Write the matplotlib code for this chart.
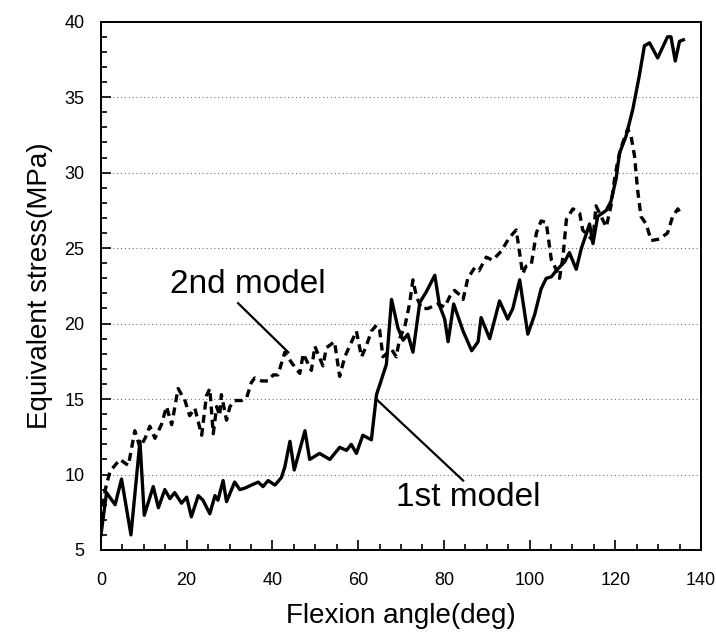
import matplotlib
matplotlib.use('Agg')
import matplotlib.pyplot as plt
from matplotlib.ticker import MultipleLocator

# 1st model (solid)
angle_1st = [0, 1.3, 3.3, 4.8, 7.0, 9.1, 10.1, 12.2, 13.4, 14.9, 16.1, 17.2, 18.8, 20.0,
             21.1, 22.7, 23.8, 25.4, 26.6, 27.3, 28.5, 29.3, 31.2, 32.4, 33.6, 35.1, 36.7,
             37.8, 39.0, 40.6, 42.1, 42.9, 44.1, 45.1, 47.6, 48.7, 51.0, 53.4, 55.7, 57.3,
             58.4, 59.6, 61.1, 63.1, 64.3, 65.0, 66.6, 67.8, 69.3, 70.5, 71.6, 72.8, 74.4,
             75.9, 77.9, 79.0, 80.2, 81.0, 82.3, 84.5, 86.5, 88.0, 88.7, 90.7, 93.0, 94.9,
             96.1, 97.7, 99.6, 101.2, 102.7, 103.9, 105.1, 106.2, 108.2, 109.3, 110.9, 112.1,
             113.2, 114.0, 114.8, 115.9, 117.9, 119.0, 120.2, 121.0, 122.5, 124.1, 125.6,
             126.8, 128.0, 129.9, 132.2, 133.0, 134.0, 135.0, 135.9]
stress_1st = [6.0, 8.8, 8.0, 9.7, 6.0, 12.2, 7.3, 9.2, 7.8, 9.0, 8.4, 8.8, 8.1, 8.5,
              7.2, 8.6, 8.3, 7.4, 8.6, 8.3, 9.6, 8.2, 9.5, 9.0, 9.1, 9.3, 9.5,
              9.2, 9.6, 9.3, 9.8, 10.5, 12.2, 10.3, 12.9, 11.0, 11.4, 11.0, 11.8, 11.6,
              12.0, 11.4, 12.6, 12.3, 15.3, 15.9, 17.3, 21.6, 19.7, 18.9, 19.3, 18.1, 21.4,
              22.1, 23.2, 21.2, 20.3, 18.8, 21.3, 19.5, 18.2, 18.8, 20.4, 19.0, 21.5, 20.3,
              21.0, 22.9, 19.3, 20.6, 22.3, 23.0, 23.1, 23.5, 24.1, 24.7, 23.6, 25.0,
              25.9, 26.6, 25.3, 27.1, 27.5, 28.1, 29.6, 31.3, 32.4, 34.2, 36.4,
              38.4, 38.6, 37.6, 39.0, 39.0, 37.4, 38.7, 38.8]

# 2nd model (dashed)
angle_2nd = [0, 1.0, 2.1, 4.4, 6.4, 7.9, 9.1, 10.3, 11.4, 12.6, 14.1, 15.3, 16.5, 18.0,
             19.6, 20.7, 21.9, 23.5, 24.6, 25.4, 26.2, 27.0, 27.7, 28.1, 29.3, 30.1, 31.2,
             32.8, 34.0, 35.1, 35.9, 37.5, 39.0, 40.2, 41.3, 42.9, 44.5, 46.4, 47.2, 49.1,
             49.9, 51.8, 52.6, 54.5, 55.7, 56.9, 58.0, 59.6, 60.8, 61.9, 63.1, 64.3, 65.0,
             65.8, 67.8, 68.9, 69.7, 70.9, 72.0, 72.8, 73.6, 74.8, 76.3, 78.6, 80.2, 81.4,
             82.5, 83.7, 84.5, 85.6, 87.2, 88.2, 89.9, 91.4, 93.4, 95.3, 96.9, 98.4, 99.2,
             100.4, 101.6, 102.7, 103.9, 105.1, 106.2, 107.0, 107.8, 108.6, 110.1, 111.7,
             112.4, 114.8, 115.5, 116.7, 117.9, 119.0, 119.8, 120.6, 121.4, 122.9, 123.7,
             124.5, 125.2, 126.0, 127.2, 128.4, 130.3, 132.2, 133.4, 134.6, 135.0]
stress_2nd = [7.0, 9.0, 10.2, 11.0, 10.6, 12.9, 11.8, 12.4, 13.2, 12.4, 13.3, 14.5, 13.3, 15.7,
              14.9, 13.9, 14.4, 12.6, 15.2, 15.7, 12.7, 14.5, 13.9, 15.3, 13.6, 14.5, 14.9,
              14.9, 15.1, 16.1, 16.4, 16.2, 16.2, 16.6, 16.6, 18.1, 17.4, 16.7, 18.0, 16.9,
              18.5, 17.2, 18.4, 18.8, 16.5, 17.8, 18.5, 19.5, 17.8, 18.5, 19.5, 19.9, 19.6,
              17.8, 18.3, 17.8, 19.0, 19.8, 21.3, 22.9, 21.8, 21.0, 21.0, 21.3, 21.1, 21.8,
              22.2, 21.9, 21.6, 23.0, 23.7, 23.5, 24.4, 24.2, 24.8, 25.7, 26.2, 23.3, 23.8,
              23.9, 26.0, 26.8, 26.7, 24.2, 23.6, 23.0, 24.4, 26.9, 27.6, 27.3,
              26.2, 25.5, 27.8, 27.1, 26.4, 27.8, 29.5, 30.8, 31.7, 32.9, 32.4,
              31.1, 28.9, 27.1, 26.6, 25.5, 25.6, 26.0, 27.1, 27.6, 27.4]

grid_levels = [10, 15, 20, 25, 30, 35]

# label text position and leader line (angle, stress)
label_2nd = (34.3, 22.6)
leader_2nd = ([32.0, 43.7], [21.35, 18.1])
label_1st = (85.8, 8.5)
leader_1st = ([64.6, 84.5], [14.9, 9.6])

fig = plt.figure(figsize=(7.16, 6.37), dpi=100)
ax = fig.add_axes([0.141, 0.1366, 0.838, 0.8293])

for g in grid_levels:
    ax.axhline(g, color='0.45', lw=0.8, ls=(0, (1, 2.5)), zorder=1)

ax.plot(angle_1st, stress_1st, color='black', lw=2.4, zorder=3)
ax.plot(angle_2nd, stress_2nd, color='black', lw=2.4, ls=(0, (2.4, 1.6)), zorder=3)

ax.plot(*leader_2nd, color='black', lw=1.6, zorder=4)
ax.plot(*leader_1st, color='black', lw=1.6, zorder=4)
ax.text(*label_2nd, '2nd model', family='Liberation Sans', fontsize=24,
        ha='center', va='center')
ax.text(*label_1st, '1st model', family='Liberation Sans', fontsize=24,
        ha='center', va='center')

ax.set_xlim(0, 140)
ax.set_ylim(5, 40)
ax.xaxis.set_major_locator(MultipleLocator(20))
ax.xaxis.set_minor_locator(MultipleLocator(5))
ax.yaxis.set_major_locator(MultipleLocator(5))
ax.yaxis.set_minor_locator(MultipleLocator(1))
ax.tick_params(which='both', direction='in', top=False, right=False, width=1.2)
ax.tick_params(which='major', length=7)
ax.tick_params(which='minor', length=4)
ax.tick_params(axis='x', which='major', pad=16)
ax.tick_params(axis='y', which='major', pad=12)
for lab in ax.get_xticklabels() + ax.get_yticklabels():
    lab.set_family('Liberation Sans')
    lab.set_fontsize(13)
for sp in ax.spines.values():
    sp.set_linewidth(1.4)

ax.set_xlabel('Flexion angle(deg)', family='Liberation Sans', fontsize=20, labelpad=10)
ax.set_ylabel('Equivalent stress(MPa)', family='Liberation Sans', fontsize=20, labelpad=8)

fig.savefig('out.png', dpi=100)
